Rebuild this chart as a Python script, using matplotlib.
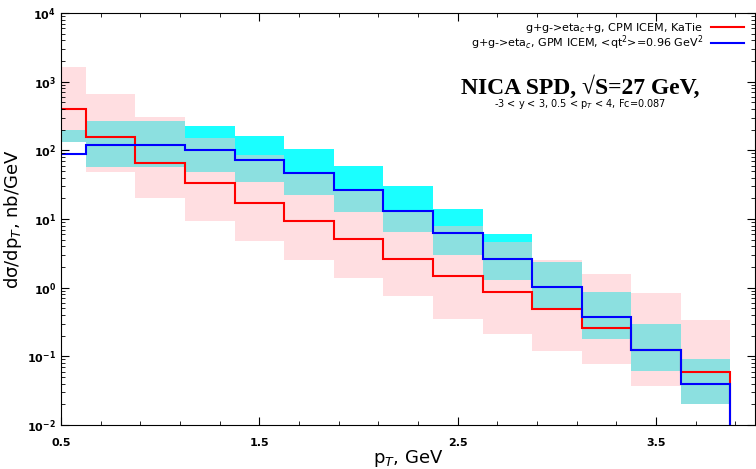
import numpy as np
import matplotlib
matplotlib.use('Agg')
import matplotlib.pyplot as plt
from matplotlib.lines import Line2D
from matplotlib.ticker import FixedLocator, LogLocator, FuncFormatter, NullFormatter

# pT bins (centres 0.5 ... 3.75, width 0.25)
pt_centres = [0.5, 0.75, 1.0, 1.25, 1.5, 1.75, 2.0, 2.25, 2.5, 2.75, 3.0, 3.25, 3.5, 3.75]

# CPM ICEM, KaTie (red) with scale band (pink)
cpm = [400, 155, 66, 33, 16.9, 9.25, 5.17, 2.62, 1.46, 0.865, 0.494, 0.259, 0.122, 0.060]
cpm_lo = [134, 48.9, 20.5, 9.35, 4.78, 2.53, 1.37, 0.764, 0.35, 0.211, 0.12, 0.078, 0.0374, 0.0205]
cpm_hi = [1650, 661, 303, 153, 85.5, 44.8, 26.4, 13.2, 7.91, 4.63, 2.53, 1.58, 0.837, 0.338]

# GPM ICEM (blue) with scale band (cyan)
gpm = [89, 120, 120, 101, 72.3, 46.3, 26.4, 13.2, 6.18, 2.62, 1.03, 0.378, 0.124, 0.040]
gpm_lo = [134, 57.2, 57.2, 48.9, 35, 22.4, 12.8, 6.54, 2.99, 1.29, 0.50, 0.179, 0.0612, 0.0205]
gpm_hi = [198, 267, 267, 226, 162, 103.5, 59.1, 30.3, 13.8, 6.05, 2.37, 0.865, 0.296, 0.0915]

label_cpm = 'g+g->eta$_c$+g, CPM ICEM, KaTie'
label_gpm = 'g+g->eta$_c$, GPM ICEM, <qt$^2$>=0.96 GeV$^2$'

c = np.array(pt_centres)
edges = np.append(c - 0.125, c[-1] + 0.125)

fig = plt.figure(figsize=(7.56, 4.69), dpi=100)
ax = fig.add_axes([0.0807, 0.0938, 0.9183, 0.8785])

# bands: pink, cyan, and their overlap drawn in a muted teal
ov_lo = np.maximum(cpm_lo, gpm_lo)
ov_hi = np.maximum(np.minimum(cpm_hi, gpm_hi), ov_lo)
ax.stairs(cpm_hi, edges, baseline=cpm_lo, fill=True, color='#ffdee1', lw=0)
ax.stairs(gpm_hi, edges, baseline=gpm_lo, fill=True, color='#1affff', lw=0)
ax.stairs(ov_hi, edges, baseline=ov_lo, fill=True, color='#8ce0e0', lw=0)

ax.stairs(cpm, edges, baseline=1e-6, color='#ff0000', lw=1.5)
ax.stairs(gpm, edges, baseline=1e-6, color='#0000ff', lw=1.5)

ax.set_yscale('log')
ax.set_xlim(0.5, 4.0)
ax.set_ylim(1e-2, 1e4)

ax.xaxis.set_major_locator(FixedLocator([0.5, 1.5, 2.5, 3.5]))
ax.xaxis.set_minor_locator(FixedLocator(np.arange(0.5, 4.01, 0.2)))
ax.xaxis.set_major_formatter(FuncFormatter(lambda v, p: '%.1f' % v))
ax.yaxis.set_major_locator(LogLocator(base=10, numticks=10))
ax.yaxis.set_minor_locator(LogLocator(base=10, subs=np.arange(2, 10), numticks=20))
ax.yaxis.set_major_formatter(FuncFormatter(lambda v, p: r'$\mathbf{10^{%d}}$' % round(np.log10(v))))
ax.yaxis.set_minor_formatter(NullFormatter())
ax.tick_params(which='both', direction='in', top=True, right=True, labelsize=8)
ax.tick_params(which='major', length=6)
ax.tick_params(which='minor', length=3)
ax.tick_params(axis='x', which='major', pad=9)
for t in ax.get_xticklabels():
    t.set_fontweight('bold')

ax.set_xlabel('p$_T$, GeV', fontsize=13, labelpad=0)
ax.set_ylabel('d\u03c3/dp$_T$, nb/GeV', fontsize=13, labelpad=2)

handles = [Line2D([], [], color='#ff0000', lw=1.5), Line2D([], [], color='#0000ff', lw=1.5)]
ax.legend(handles, [label_cpm, label_gpm], loc='upper right', bbox_to_anchor=(0.995, 1.0),
          frameon=False, fontsize=8, markerfirst=False, handlelength=3.0,
          labelspacing=-0.1, borderpad=0.2, handletextpad=0.7)

fig.text(0.767, 0.815, 'NICA SPD, \u221aS=27 GeV,', family='Liberation Serif',
         fontweight='bold', fontsize=17, ha='center', va='center')
fig.text(0.767, 0.778, '-3 < y < 3, 0.5 < p$_T$ < 4, Fc=0.087', fontsize=7,
         ha='center', va='center')

fig.savefig('out.png', dpi=100)
